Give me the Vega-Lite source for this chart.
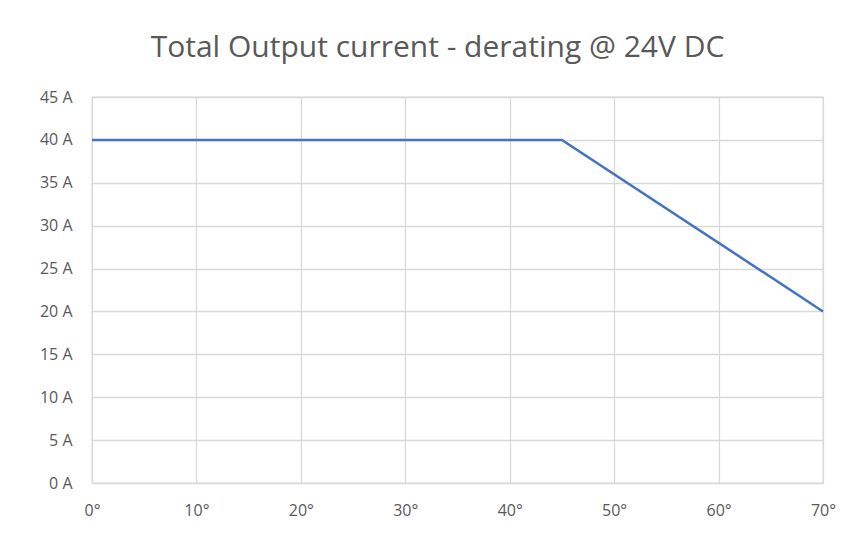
{
  "$schema": "https://vega.github.io/schema/vega-lite/v6.json",
  "width": 731,
  "height": 386,
  "autosize": "none",
  "padding": {"left": 92, "top": 97, "right": 42, "bottom": 50},
  "background": "white",
  "title": {
    "text": "Total Output current - derating @ 24V DC",
    "font": "Open Sans",
    "fontSize": 30,
    "fontWeight": "normal",
    "color": "#595959",
    "anchor": "middle",
    "offset": 26,
    "dx": -20
  },
  "data": {
    "values": [
      {"temp": 0, "current": 40},
      {"temp": 45, "current": 40},
      {"temp": 70, "current": 20}
    ]
  },
  "mark": {"type": "line", "color": "#4472C4", "strokeWidth": 2.5},
  "encoding": {
    "x": {
      "field": "temp",
      "type": "quantitative",
      "scale": {"domain": [0, 70], "nice": false},
      "axis": {
        "title": null,
        "values": [0, 10, 20, 30, 40, 50, 60, 70],
        "labelExpr": "datum.value + '°'",
        "labelFlush": false,
        "domain": false,
        "ticks": false,
        "labelPadding": 19,
        "labelFont": "Open Sans",
        "labelFontSize": 16,
        "labelColor": "#595959",
        "gridColor": "#d9d9d9",
        "gridWidth": 1.3
      }
    },
    "y": {
      "field": "current",
      "type": "quantitative",
      "scale": {"domain": [0, 45], "nice": false},
      "axis": {
        "title": null,
        "values": [0, 5, 10, 15, 20, 25, 30, 35, 40, 45],
        "labelExpr": "datum.value + ' A'",
        "labelFlush": false,
        "domain": false,
        "ticks": false,
        "labelPadding": 20,
        "labelFont": "Open Sans",
        "labelFontSize": 16,
        "labelColor": "#595959",
        "gridColor": "#d9d9d9",
        "gridWidth": 1.3
      }
    }
  },
  "config": {
    "view": {"stroke": "#d9d9d9", "strokeWidth": 1.3}
  }
}
